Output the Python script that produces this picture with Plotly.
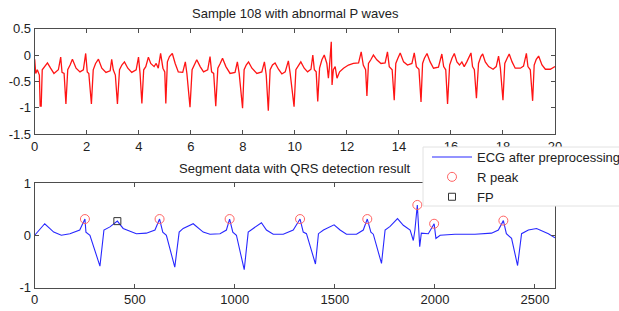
import plotly.graph_objects as go

# ---- Top panel: Sample 108 (time in s, amplitude) ----
top_t = [0, 0.04, 0.1, 0.18, 0.21, 0.25, 0.29, 0.4, 0.49, 0.61,
         0.74, 0.91, 1.0, 1.05, 1.13, 1.2, 1.27, 1.36, 1.45, 1.59,
         1.74, 1.87, 1.96, 2.02, 2.08, 2.18, 2.25, 2.34, 2.45, 2.58,
         2.74, 2.9, 2.96, 3.02, 3.1, 3.18, 3.26, 3.35, 3.45, 3.58,
         3.73, 3.9, 3.99, 4.05, 4.12, 4.19, 4.27, 4.37, 4.46, 4.59,
         4.67, 4.75, 4.84, 4.93, 5.0, 5.04, 5.1, 5.18, 5.29, 5.4,
         5.52, 5.69, 5.79, 5.85, 5.97, 6.05, 6.14, 6.23, 6.36, 6.49,
         6.65, 6.74, 6.8, 6.88, 6.96, 7.04, 7.13, 7.22, 7.35, 7.51,
         7.7, 7.79, 7.86, 7.99, 8.05, 8.13, 8.22, 8.35, 8.54, 8.73,
         8.83, 8.9, 8.98, 9.05, 9.14, 9.24, 9.37, 9.5, 9.63, 9.75,
         9.82, 9.97, 10.04, 10.14, 10.23, 10.36, 10.49, 10.62, 10.69, 10.75,
         10.82, 10.88, 10.95, 11.04, 11.13, 11.23, 11.29, 11.33, 11.4, 11.43,
         11.48, 11.55, 11.62, 11.72, 11.87, 12.06, 12.25, 12.45, 12.55, 12.63,
         12.72, 12.77, 12.83, 12.92, 13.02, 13.15, 13.31, 13.47, 13.56, 13.63,
         13.74, 13.82, 13.88, 13.96, 14.05, 14.18, 14.33, 14.5, 14.59, 14.67,
         14.77, 14.85, 14.91, 14.98, 15.08, 15.2, 15.33, 15.52, 15.65, 15.72,
         15.8, 15.87, 15.95, 16.04, 16.13, 16.23, 16.33, 16.42, 16.51, 16.61,
         16.77, 16.83, 16.9, 16.98, 17.06, 17.15, 17.22, 17.32, 17.45, 17.62,
         17.74, 17.83, 17.9, 18.0, 18.07, 18.16, 18.24, 18.35, 18.47, 18.67,
         18.79, 18.9, 18.96, 19.05, 19.14, 19.2, 19.28, 19.37, 19.5, 19.63,
         19.82, 20.0]
top_v = [-0.08, -0.35, -0.28, -0.38, -0.97, -0.97, -0.28, -0.22, -0.15, -0.25,
         -0.35, -0.28, -0.04, -0.33, -0.35, -0.93, -0.28, -0.19, -0.08, -0.25,
         -0.32, -0.28, 0.03, -0.32, -0.35, -0.93, -0.28, -0.16, -0.08, -0.25,
         -0.33, -0.3, -0.08, -0.28, -0.38, -0.93, -0.28, -0.19, -0.13, -0.25,
         -0.33, -0.28, -0.04, -0.35, -0.92, -0.28, -0.22, -0.04, -0.16, -0.22,
         -0.16, -0.25, 0.03, -0.25, -0.32, -0.92, -0.13, -0.03, 0.03, -0.16,
         -0.32, -0.33, -0.13, -0.35, -0.99, -0.28, -0.19, -0.09, -0.22, -0.32,
         -0.28, -0.03, -0.32, -0.35, -0.97, -0.25, -0.16, -0.06, -0.22, -0.35,
         -0.33, -0.13, -0.35, -1.01, -0.28, -0.19, -0.13, -0.25, -0.35, -0.32,
         -0.13, -0.38, -1.06, -0.28, -0.19, -0.15, -0.27, -0.36, -0.32, -0.11,
         -0.35, -0.98, -0.28, -0.19, -0.13, -0.25, -0.32, -0.27, 0.0, -0.28,
         -0.32, -0.88, -0.25, -0.09, 0.0, -0.16, -0.44, -0.22, 0.25, -0.57,
         -0.28, -0.22, -0.44, -0.32, -0.25, -0.19, -0.16, -0.15, 0.06, -0.19,
         -0.28, -0.78, -0.16, -0.09, 0.0, -0.09, -0.16, -0.15, 0.06, -0.22,
         -0.28, -0.86, -0.16, -0.06, 0.04, -0.13, -0.19, -0.16, 0.04, -0.22,
         -0.27, -0.89, -0.16, -0.06, 0.03, -0.13, -0.25, -0.23, 0.02, -0.22,
         -0.28, -0.93, -0.19, -0.06, 0.03, -0.13, -0.19, -0.13, -0.22, -0.13,
         0.04, -0.22, -0.28, -0.82, -0.16, -0.03, 0.02, -0.13, -0.22, -0.27,
         -0.22, -0.02, -0.25, -0.86, -0.16, -0.06, 0.02, -0.13, -0.25, -0.25,
         -0.21, 0.03, -0.22, -0.28, -0.87, -0.19, -0.08, -0.02, -0.19, -0.27,
         -0.27, -0.22]

# ---- Bottom panel: segment (sample index, amplitude) ----
bot_n = [0, 50, 75, 95, 133, 176, 225, 242, 251, 256,
         276, 326, 346, 376, 413, 442, 508, 558, 601, 624,
         640, 658, 700, 722, 742, 792, 842, 876, 926, 958,
         974, 990, 1008, 1047, 1067, 1092, 1133, 1158, 1192, 1242,
         1292, 1326, 1342, 1358, 1403, 1418, 1443, 1496, 1526, 1558,
         1608, 1642, 1662, 1680, 1692, 1733, 1751, 1776, 1813, 1842,
         1876, 1892, 1900, 1912, 1924, 1932, 1967, 1996, 2005, 2026,
         2100, 2200, 2283, 2317, 2342, 2357, 2383, 2413, 2433, 2467,
         2508, 2567, 2600]
bot_v = [0.0, 0.22, 0.13, 0.06, 0.0, 0.03, 0.1, 0.26, 0.31, 0.06,
         0.0, -0.59, 0.1, 0.16, 0.27, 0.13, 0.03, 0.04, 0.1, 0.31,
         0.06, 0.0, -0.61, 0.06, 0.13, 0.22, 0.06, 0.02, 0.03, 0.1,
         0.31, 0.06, 0.0, -0.66, 0.06, 0.13, 0.24, 0.1, 0.02, 0.02,
         0.1, 0.31, 0.06, 0.03, -0.55, 0.03, 0.1, 0.2, 0.1, 0.02,
         0.02, 0.1, 0.31, 0.06, 0.02, -0.54, 0.1, 0.17, 0.32, 0.19,
         0.1, -0.1, 0.1, 0.58, -0.22, 0.04, 0.03, 0.22, -0.06, 0.0,
         0.02, 0.02, 0.04, 0.1, 0.28, 0.03, -0.06, -0.58, 0.03, 0.1,
         0.13, 0.03, -0.05]

rpeak_n = [251, 624, 974, 1326, 1662, 1912, 1996, 2342]
rpeak_v = [0.31, 0.31, 0.31, 0.31, 0.31, 0.58, 0.22, 0.28]
fp_n = [413]
fp_v = [0.27]

top_xticks = [0, 2, 4, 6, 8, 10, 12, 14, 16, 18, 20]
top_yticks = [0.5, 0, -0.5, -1, -1.5]
bot_xticks = [0, 500, 1000, 1500, 2000, 2500]
bot_yticks = [1, 0, -1]


def lab(v):
    return "%g" % v


W, H = 619, 311
FONT = "Liberation Sans, Arial, sans-serif"
AX = "#4d4d4d"
TXT = "#222222"


def px(xw):
    return xw / W


def py(yw):
    return 1 - yw / H


fig = go.Figure()
fig.add_trace(go.Scatter(x=top_t, y=top_v, mode="lines", showlegend=False,
                         line=dict(color="rgb(255,20,20)", width=1.3),
                         xaxis="x", yaxis="y"))
fig.add_trace(go.Scatter(x=bot_n, y=bot_v, mode="lines", name="ECG after preprocessing",
                         line=dict(color="rgb(40,40,255)", width=1.1),
                         xaxis="x2", yaxis="y2"))
fig.add_trace(go.Scatter(x=rpeak_n, y=rpeak_v, mode="markers", name="R peak",
                         marker=dict(symbol="circle-open", size=9,
                                     color="rgb(255,100,100)", line=dict(width=1)),
                         xaxis="x2", yaxis="y2"))
fig.add_trace(go.Scatter(x=fp_n, y=fp_v, mode="markers", name="FP",
                         marker=dict(symbol="square-open", size=7,
                                     color="#333333", line=dict(width=1)),
                         xaxis="x2", yaxis="y2"))

axcommon = dict(showline=True, mirror="ticks", linecolor=AX, linewidth=1,
                ticks="inside", ticklen=4, tickcolor=AX, showgrid=False,
                zeroline=False, automargin=False,
                tickfont=dict(family=FONT, size=13, color=TXT))

xd = [px(34.7), px(555)]
fig.update_layout(
    width=W, height=H, margin=dict(l=0, r=0, t=0, b=0, autoexpand=False),
    paper_bgcolor="white", plot_bgcolor="white",
    font=dict(family=FONT, size=13, color=TXT),
    xaxis=dict(domain=xd, range=[0, 20], tickvals=top_xticks,
               ticktext=[lab(v) for v in top_xticks], anchor="y", **axcommon),
    yaxis=dict(domain=[py(134), py(28.7)], range=[-1.5, 0.5],
               tickvals=top_yticks, ticktext=[lab(v) for v in top_yticks],
               anchor="x", **axcommon),
    xaxis2=dict(domain=xd, range=[0, 2600], tickvals=bot_xticks,
                ticktext=[lab(v) for v in bot_xticks], anchor="y2", **axcommon),
    yaxis2=dict(domain=[py(287.5), py(183)], range=[-1, 1],
                tickvals=bot_yticks, ticktext=[lab(v) for v in bot_yticks],
                anchor="x2", **axcommon),
    legend=dict(x=px(427), y=py(142), xanchor="left", yanchor="top",
                bgcolor="rgba(0,0,0,0)", borderwidth=0, itemwidth=40,
                font=dict(family=FONT, size=13, color=TXT),
                tracegroupgap=0),
    shapes=[dict(type="rect", xref="paper", yref="paper", layer="above",
                 x0=px(423), x1=1.05, y0=py(206), y1=py(147),
                 fillcolor="white", line=dict(color="#e2e2e2", width=1))],
    annotations=[
        dict(text="Sample 108 with abnormal P waves", x=px(295), y=py(14),
             xref="paper", yref="paper", showarrow=False,
             xanchor="center", yanchor="middle",
             font=dict(family=FONT, size=13, color=TXT)),
        dict(text="Segment data with QRS detection result", x=px(295), y=py(168),
             xref="paper", yref="paper", showarrow=False,
             xanchor="center", yanchor="middle",
             font=dict(family=FONT, size=13, color=TXT)),
    ],
)

fig.write_html(
    "out.html",
    config={"displayModeBar": False},
    post_script="document.body.style.margin='0';document.body.style.overflow='hidden';",
)
